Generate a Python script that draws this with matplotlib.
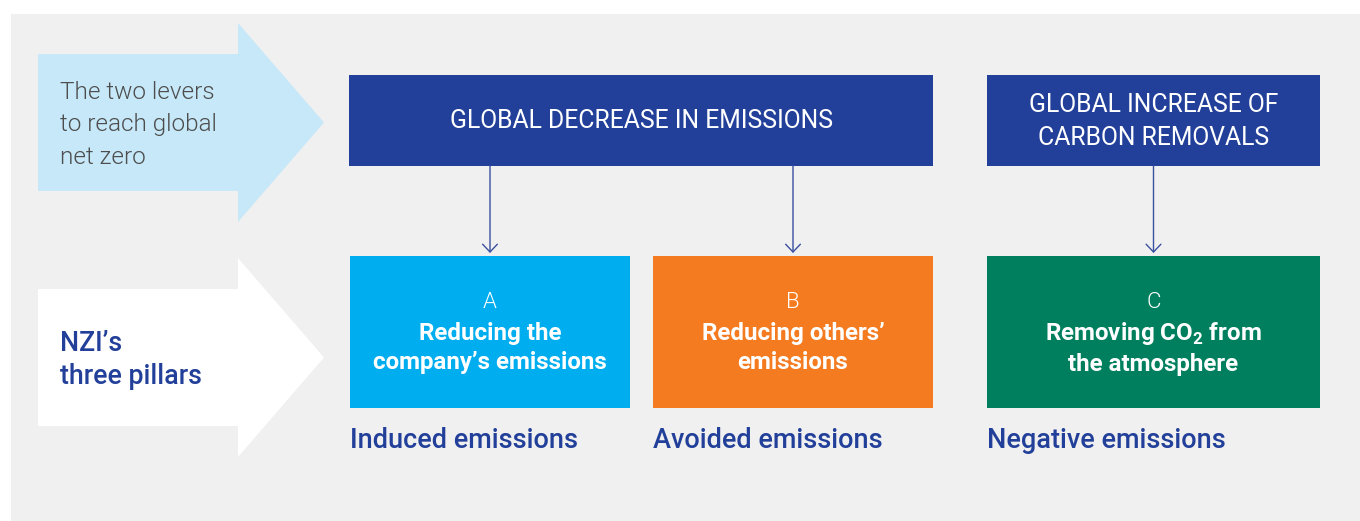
import matplotlib.pyplot as plt
from matplotlib.patches import Rectangle, Polygon, FancyArrowPatch

plt.rcParams['font.family'] = ['Roboto', 'DejaVu Sans']
plt.rcParams['mathtext.fontset'] = 'custom'
plt.rcParams['mathtext.rm'] = 'Roboto:bold'
plt.rcParams['mathtext.bf'] = 'Roboto:bold'

# text content
lever_text = "The two levers\nto reach global\nnet zero"
pillar_text = "NZI\u2019s\nthree pillars"
lever_titles = ["GLOBAL DECREASE IN EMISSIONS", "GLOBAL INCREASE OF\nCARBON REMOVALS"]
pillar_letters = ["A", "B", "C"]
pillar_texts = ["Reducing the\ncompany\u2019s emissions",
                "Reducing others\u2019\nemissions",
                "Removing CO$_\\mathbf{2}$ from\nthe atmosphere"]
pillar_labels = ["Induced emissions", "Avoided emissions", "Negative emissions"]
pillar_lever = [0, 0, 1]  # which lever feeds each pillar

# layout (pixels)
lever_boxes = [(349, 75, 584, 91), (987, 75, 333, 91)]
pillar_boxes = [(350, 256, 280, 152), (653, 256, 280, 152), (987, 256, 333, 152)]

navy = "#22409a"
pillar_colors = ["#00aeef", "#f47b20", "#007f5f"]
bg = "#f0f0f0"

fig = plt.figure(figsize=(13.6, 5.21), dpi=100)
ax = fig.add_axes([0, 0, 1, 1])
ax.set_xlim(0, 1360)
ax.set_ylim(521, 0)
ax.axis("off")

ax.add_patch(Rectangle((11, 14), 1349, 507, color=bg, lw=0))

# big arrows on the left
def big_arrow(y0, y1, ytop, ybot, color):
    ymid = (y0 + y1) / 2
    pts = [(38, y0), (238, y0), (238, ytop), (324, ymid), (238, ybot), (238, y1), (38, y1)]
    ax.add_patch(Polygon(pts, closed=True, color=color, lw=0))

big_arrow(54, 191, 23, 222, "#c6e8f8")
big_arrow(289, 426, 258, 457, "white")

ax.text(60, 125, lever_text, fontsize=17.5, fontweight=300, color="#4d4d4d",
        va="center", ha="left", linespacing=1.55)
ax.text(60, 360, pillar_text, fontsize=19.3, fontweight="medium", color=navy,
        va="center", ha="left", linespacing=1.3)

for (x, y, w, h), title in zip(lever_boxes, lever_titles):
    ax.add_patch(Rectangle((x, y), w, h, color=navy, lw=0))
    ax.text(x + w / 2, y + h / 2 + 1, title, fontsize=17.8, color="white",
            ha="center", va="center", linespacing=1.45)

for i, (x, y, w, h) in enumerate(pillar_boxes):
    ax.add_patch(Rectangle((x, y), w, h, color=pillar_colors[i], lw=0))
    cx = x + w / 2
    ax.text(cx, 303, pillar_letters[i], fontsize=16, fontweight=300,
            color="white", ha="center", va="center")
    ax.text(cx, 348, pillar_texts[i], fontsize=17.4, fontweight="bold",
            color="white", ha="center", va="center", linespacing=1.32)
    ax.text(x, 441, pillar_labels[i], fontsize=19.5, fontweight="medium",
            color=navy, ha="left", va="center")
    lx, ly, lw_, lh = lever_boxes[pillar_lever[i]]
    arr = FancyArrowPatch((cx, ly + lh), (cx, y - 3),
                          arrowstyle="->,head_length=0.4,head_width=0.38",
                          mutation_scale=14, color="#3a50a0", lw=1,
                          shrinkA=0, shrinkB=0)
    ax.add_patch(arr)

fig.savefig("out.png", dpi=100)
